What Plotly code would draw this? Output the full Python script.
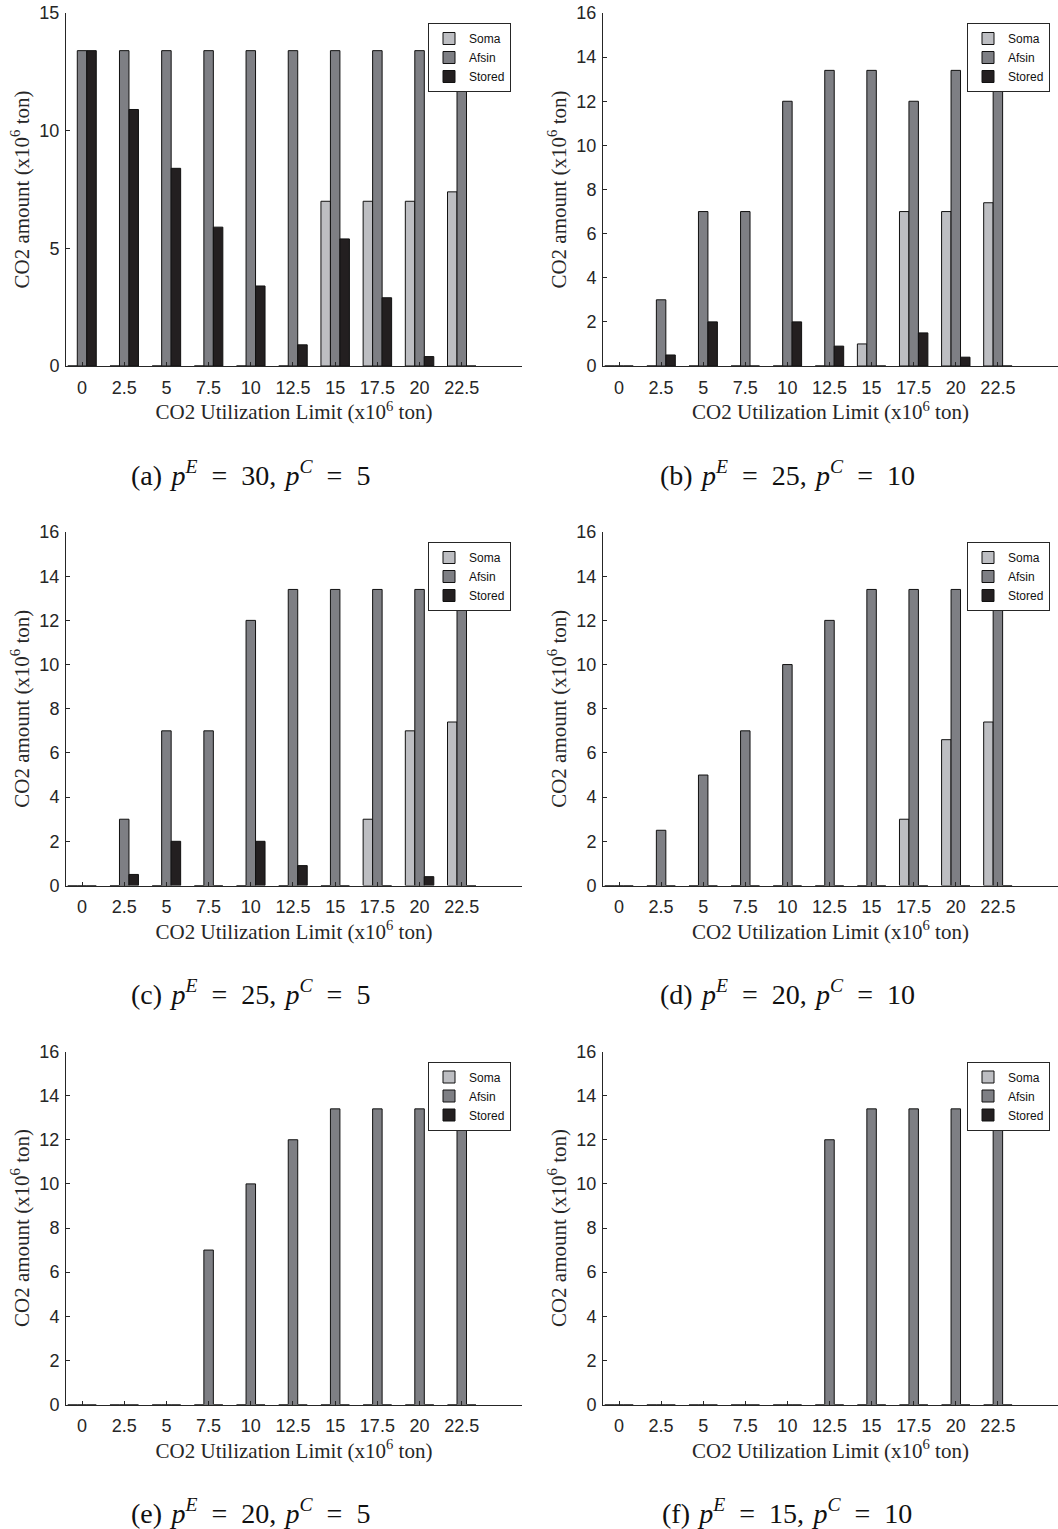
import plotly.graph_objects as go

W, H = 1058, 1529

# ---------------- data ----------------
limits = [0, 2.5, 5, 7.5, 10, 12.5, 15, 17.5, 20, 22.5]
tick_labels = ["0", "2.5", "5", "7.5", "10", "12.5", "15", "17.5", "20", "22.5"]
series_names = ["Soma", "Afsin", "Stored"]

# (a) pE=30, pC=5
a_soma   = [0, 0, 0, 0, 0, 0, 7, 7, 7, 7.4]
a_afsin  = [13.4, 13.4, 13.4, 13.4, 13.4, 13.4, 13.4, 13.4, 13.4, 13.4]
a_stored = [13.4, 10.9, 8.4, 5.9, 3.4, 0.9, 5.4, 2.9, 0.4, 0]
# (b) pE=25, pC=10
b_soma   = [0, 0, 0, 0, 0, 0, 1, 7, 7, 7.4]
b_afsin  = [0, 3, 7, 7, 12, 13.4, 13.4, 12, 13.4, 13.4]
b_stored = [0, 0.5, 2, 0, 2, 0.9, 0, 1.5, 0.4, 0]
# (c) pE=25, pC=5
c_soma   = [0, 0, 0, 0, 0, 0, 0, 3, 7, 7.4]
c_afsin  = [0, 3, 7, 7, 12, 13.4, 13.4, 13.4, 13.4, 13.4]
c_stored = [0, 0.5, 2, 0, 2, 0.9, 0, 0, 0.4, 0]
# (d) pE=20, pC=10
d_soma   = [0, 0, 0, 0, 0, 0, 0, 3, 6.6, 7.4]
d_afsin  = [0, 2.5, 5, 7, 10, 12, 13.4, 13.4, 13.4, 13.4]
d_stored = [0, 0, 0, 0, 0, 0, 0, 0, 0, 0]
# (e) pE=20, pC=5
e_soma   = [0, 0, 0, 0, 0, 0, 0, 0, 0, 0]
e_afsin  = [0, 0, 0, 7, 10, 12, 13.4, 13.4, 13.4, 13.4]
e_stored = [0, 0, 0, 0, 0, 0, 0, 0, 0, 0]
# (f) pE=15, pC=10
f_soma   = [0, 0, 0, 0, 0, 0, 0, 0, 0, 0]
f_afsin  = [0, 0, 0, 0, 0, 12, 13.4, 13.4, 13.4, 13.4]
f_stored = [0, 0, 0, 0, 0, 0, 0, 0, 0, 0]

captions = [
    ("a", "30", "5"), ("b", "25", "10"),
    ("c", "25", "5"), ("d", "20", "10"),
    ("e", "20", "5"), ("f", "15", "10"),
]
y_max = [15, 16, 16, 16, 16, 16]
y_dtick = [5, 2, 2, 2, 2, 2]

panels = [
    (a_soma, a_afsin, a_stored), (b_soma, b_afsin, b_stored),
    (c_soma, c_afsin, c_stored), (d_soma, d_afsin, d_stored),
    (e_soma, e_afsin, e_stored), (f_soma, f_afsin, f_stored),
]

# ---------------- style ----------------
colors = ["#bdbec2", "#7e7f84", "#231f20"]
axis_col = "#262626"
sans = "Liberation Sans, Arial, sans-serif"
serif = "Liberation Serif, Times New Roman, serif"

# pixel layout (window pixels)
col_x = [(66, 522), (603, 1058)]
row_y = [(13, 366), (532, 885.5), (1051.5, 1404.5)]
cap_x = [250, 787]
cap_y = [473, 992, 1511]
leg_right = [511, 1050]
leg_top = 23


def px(v):
    return v / W


def py(v):
    return 1 - v / H


fig = go.Figure()

for i, (soma, afsin, stored) in enumerate(panels):
    r, c = divmod(i, 2)
    k = "" if i == 0 else str(i + 1)
    leg = "legend" + k
    for name, vals, col in zip(series_names, (soma, afsin, stored), colors):
        fig.add_trace(go.Bar(
            x=limits, y=vals, name=name,
            marker=dict(color=col, line=dict(color="#111111", width=1)),
            xaxis="x" + k, yaxis="y" + k, legend=leg, showlegend=True,
        ))

    x0, x1 = col_x[c]
    yt, yb = row_y[r]
    fig.layout["xaxis" + k] = dict(
        domain=[px(x0), min(px(x1), 1.0)], anchor="y" + k, automargin=False,
        range=[-0.95, 26.07], tickvals=limits, ticktext=tick_labels,
        showline=True, linecolor=axis_col, linewidth=1,
        ticks="inside", ticklen=4, tickcolor=axis_col, ticklabelstandoff=5,
        showgrid=False, zeroline=False, ticklabeloverflow="allow",
        tickfont=dict(family=sans, size=18, color=axis_col),
        title=dict(text="CO2 Utilization Limit (x10<sup>6</sup> ton)",
                   font=dict(family=serif, size=21, color=axis_col), standoff=6),
    )
    fig.layout["yaxis" + k] = dict(
        domain=[py(yb), py(yt)], anchor="x" + k, automargin=False,
        range=[0, y_max[i]], dtick=y_dtick[i], tick0=0,
        showline=True, linecolor=axis_col, linewidth=1,
        ticks="inside", ticklen=4, tickcolor=axis_col, ticklabelstandoff=2,
        showgrid=False, zeroline=False, ticklabeloverflow="allow",
        tickfont=dict(family=sans, size=18, color=axis_col),
        title=dict(text="CO2 amount (x10<sup>6</sup> ton)",
                   font=dict(family=serif, size=21, color=axis_col), standoff=4),
    )
    fig.layout[leg] = dict(
        x=px(leg_right[c]), y=py(yt + (leg_top - row_y[0][0])),
        xanchor="right", yanchor="top",
        bordercolor=axis_col, borderwidth=1, bgcolor="white",
        font=dict(family=sans, size=12, color="#111111"),
        itemwidth=30, tracegroupgap=0,
    )
    lab, pe, pc = captions[i]
    sp, eq = "\u2004", "\u2002"
    fig.add_annotation(
        xref="paper", yref="paper", x=px(cap_x[c]), y=py(cap_y[r]),
        xanchor="center", yanchor="middle", showarrow=False,
        text=(f"({lab}){sp}<i>p</i><sup><i>E</i></sup>{eq}={eq}{pe},{sp}"
              f"<i>p</i><sup><i>C</i></sup>{eq}={eq}{pc}"),
        font=dict(family=serif, size=28, color="#111111"),
    )

fig.update_layout(
    width=W, height=H, margin=dict(l=0, r=0, t=0, b=0, autoexpand=False),
    paper_bgcolor="white", plot_bgcolor="white",
    barmode="group", bargap=0.325, bargroupgap=0,
)

# remove the browser's default 8px page margin so the figure fills the window
fig.write_html(
    "out.html",
    config={"displayModeBar": False},
    post_script="document.body.style.margin='0';document.body.style.overflow='hidden';",
)
